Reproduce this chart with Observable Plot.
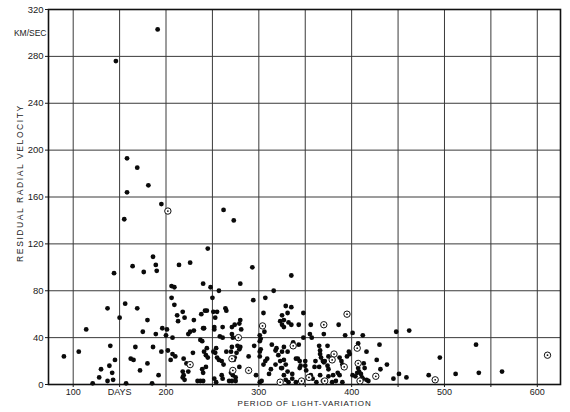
<!DOCTYPE html>
<html>
<head>
<meta charset="utf-8">
<script src="https://cdn.jsdelivr.net/npm/d3@7"></script>
<script src="https://cdn.jsdelivr.net/npm/@observablehq/plot@0.6"></script>
<style>
  html, body { margin: 0; padding: 0; background: #ffffff; }
  #chart { width: 570px; height: 412px; }
</style>
</head>
<body>
<div id="chart"></div>
<script>
// Filled dots: period of light-variation (days) and residual radial velocity (km/sec)
const period = [
  191,146,158,169,181,158,195,155,262,273,245,186,189,190,164,176,144,214,226,293,
  335,280,316,240,248,257,206,209,206,209,250,294,307,329,335,264,137,156,169,534,
  512,537,562,495,448,462,451,459,483,445,438,431,427,430,416,407,412,401,393,386,
  356,355,357,370,343,348,413,407,414,406,408,416,180,175,189,201,200,207,218,220,
  213,230,238,240,230,226,224,237,239,167,186,195,162,165,180,172,192,157,185,202,
  207,210,205,219,229,222,218,224,218,220,219,234,237,240,305,242,244,251,255,265,
  253,241,252,252,261,271,274,280,279,281,306,323,258,261,271,272,301,302,301,295,
  314,319,244,241,254,253,265,270,271,277,280,279,276,274,273,289,301,301,302,309,
  307,305,318,321,323,324,318,313,311,243,245,251,255,257,260,262,279,270,272,275,
  271,275,268,260,261,243,240,252,254,297,301,303,331,325,327,325,327,332,335,348,
  337,343,327,325,331,340,342,344,345,344,350,350,351,361,360,365,366,366,367,369,
  370,365,374,375,374,375,371,366,375,380,369,387,389,390,397,398,395,385,387,383,
  379,401,404,410,412,409,362,390,356,358,411,418,90,106,114,150,140,145,139,142,
  143,137,130,128,121,212,196,239,327,329,325,331,327,329,332,336,336,340
];
const velocity = [
  303,276,193,185,170,164,154,141,149,140,116,109,102,97,101,96,95,102,104,100,
  93,86,80,86,83,80,84,83,74,68,74,72,74,67,66,65,65,69,65,34,
  9,10,11,23,45,46,9,6,8,5,17,13,21,34,28,35,42,44,42,51,
  51,43,40,43,51,61,18,14,14,10,11,4,55,45,43,47,42,40,62,57,
  54,55,60,48,46,45,43,38,37,32,32,28,22,21,18,12,8,1,1,29,
  26,24,21,22,27,18,11,11,6,4,8,3,3,3,61,63,63,62,62,63,
  57,48,49,47,49,49,51,55,52,47,45,54,41,40,43,40,42,39,37,33,
  34,31,31,28,31,27,28,28,32,33,32,30,27,23,21,24,28,24,30,22,
  20,17,29,25,20,14,17,13,9,25,23,28,23,21,20,17,15,10,8,6,
  3,3,3,8,5,15,10,5,2,8,2,3,61,59,55,51,49,53,51,40,
  36,34,32,28,28,22,22,20,16,14,20,16,12,20,15,33,29,26,23,20,
  19,15,33,24,16,13,20,8,7,8,3,23,20,17,28,26,24,10,8,3,
  2,8,7,9,5,2,2,2,8,5,6,3,24,28,47,57,33,21,16,10,
  4,3,13,6,1,59,48,13,21,17,14,11,8,4,2,9,5,2
];
// Circled (ringed) points
const ringPeriod   = [202,395,611,490,426,406,370,407,409,226,304,278,323,271,272,289,337,354,346,381,379,392,371];
const ringVelocity = [148, 60, 25,  4,  7, 31, 51, 18,  3, 17, 50, 40,  2, 22, 12, 12, 33,  6,  3, 26, 21, 15,  3];

// Grid and tick labels
const gridX = [100,150,200,250,300,350,400,450,500,550,600];
const gridY = [40,80,120,160,200,240,280];
const xTickValues = [100,150,200,300,400,500,600];
const xTickLabels = ["100","DAYS","200","300","400","500","600"];
const yTickValues = [0,40,80,120,160,200,240,280,320];
const yUnitValue = [300];
const yUnitLabel = "KM/SEC";
const xTitle = "PERIOD OF LIGHT-VARIATION";
const yTitle = "RESIDUAL RADIAL VELOCITY";

const dots = period.map((p, i) => ({p, v: velocity[i]}));
const rings = ringPeriod.map((p, i) => ({p, v: ringVelocity[i]}));

const ink = "#1a1a1a";
const font = "Liberation Sans, Arial, sans-serif";

const chart = Plot.plot({
  width: 570,
  height: 412,
  marginLeft: 48,
  marginTop: 9,
  marginRight: 10,
  marginBottom: 28,
  style: {fontFamily: font, fontSize: "9px", color: ink, background: "#ffffff"},
  x: {domain: [73.4, 625]},
  y: {domain: [0, 320]},
  marks: [
    Plot.ruleX(gridX, {stroke: "#3a3a3a", strokeWidth: 1}),
    Plot.ruleY(gridY, {stroke: "#3a3a3a", strokeWidth: 1}),
    Plot.frame({stroke: "#111", strokeWidth: 1.6}),
    Plot.axisX({
      ticks: gridX, tickSize: 3, tickPadding: 1,
      tickFormat: d => { const i = xTickValues.indexOf(d); return i >= 0 ? xTickLabels[i] : ""; },
      label: null, stroke: ink, fill: ink, fontSize: 9
    }),
    Plot.axisY({
      ticks: yTickValues, tickSize: 3, tickPadding: 2,
      tickFormat: d => String(d), label: null, stroke: ink, fill: ink, fontSize: 9.5
    }),
    Plot.axisY({
      ticks: yUnitValue, tickSize: 0, tickPadding: 2,
      tickFormat: () => yUnitLabel, label: null, fill: ink, fontSize: 8.5
    }),
    Plot.dot(dots, {x: "p", y: "v", r: 2.4, fill: "#0a0a0a", stroke: "none"}),
    Plot.dot(rings, {x: "p", y: "v", r: 3.2, fill: "#ffffff", stroke: "#111", strokeWidth: 1}),
    Plot.dot(rings, {x: "p", y: "v", r: 0.9, fill: "#111", stroke: "none"}),
    Plot.text([xTitle], {frameAnchor: "bottom", textAnchor: "middle", dy: 19, lineAnchor: "middle", fill: ink, fontSize: 8}),
    Plot.text([yTitle], {frameAnchor: "left", textAnchor: "middle", dx: -28, dy: -14, rotate: -90, lineAnchor: "middle", fill: ink, fontSize: 8.5})
  ]
});

d3.select(chart).selectAll("text").each(function() {
  const t = d3.select(this).text();
  if (t === xTitle) d3.select(this).style("letter-spacing", "0.8px");
  if (t === yTitle) d3.select(this).style("letter-spacing", "1.6px");
});

document.getElementById("chart").appendChild(chart);
</script>
</body>
</html>
